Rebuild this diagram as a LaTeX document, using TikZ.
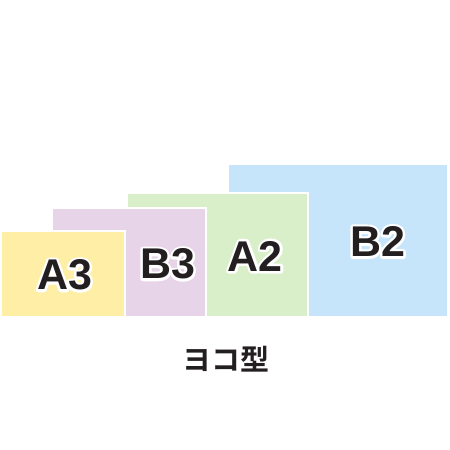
\documentclass[tikz,border=0pt]{standalone}
\usepackage{fontspec}
\setmainfont{Liberation Sans}
\newfontfamily\jpfont{Noto Sans CJK JP Bold}
\definecolor{sheetA3}{HTML}{FFEFA6}
\definecolor{sheetB3}{HTML}{E8D4E9}
\definecolor{sheetA2}{HTML}{D8EFC9}
\definecolor{sheetB2}{HTML}{C6E5FA}
\definecolor{ink}{HTML}{231F20}
\newcommand\haloed[1]{\leavevmode\rlap{\special{pdf:literal direct 1 Tr 5 w 1 j 1 1 1 RG}#1\special{pdf:literal direct 0 Tr}}#1}
\tikzset{sheet/.style={draw=white,line width=1.4pt},
papername/.style={font=\fontsize{43}{43}\selectfont\bfseries,text=ink,inner sep=0pt}}
\begin{document}
\begin{tikzpicture}[x=1pt,y=-1pt]
\useasboundingbox (0,0) rectangle (450,450);
\draw[sheet,fill=sheetB2](228,164)rectangle(448,317);
\draw[sheet,fill=sheetA2](127,193)rectangle(308,317);
\draw[sheet,fill=sheetB3](52,208)rectangle(206,317);
\draw[sheet,fill=sheetA3](1,231)rectangle(125,317);
\node[papername](B2) at (377.5,241.5) {\haloed{B2}};
\node[papername](A2) at (255,256) {\haloed{A2}};
\node[papername](B3) at (167.5,264) {\haloed{B3}};
\node[papername](A3) at (64.5,275) {\haloed{A3}};
\node[font=\fontsize{29}{29}\selectfont\jpfont,text=ink](caption) at (226,359) {ヨコ型};
\end{tikzpicture}
\end{document}
